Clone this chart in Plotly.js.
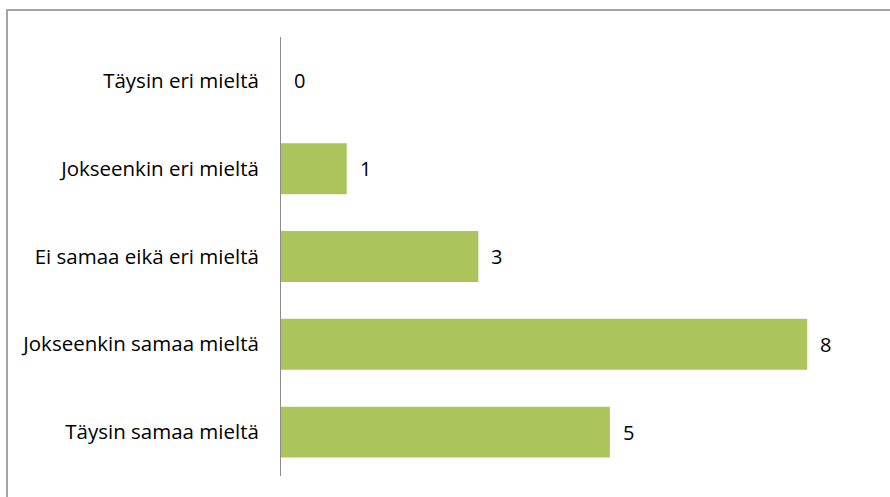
<!DOCTYPE html>
<html>
<head>
<meta charset="utf-8">
<script src="https://cdn.plot.ly/plotly-3.0.1.min.js"></script>
<style>
html,body{margin:0;padding:0;background:#fff;overflow:hidden;}
#chart{position:absolute;left:0;top:0;width:890px;height:497px;}
#frame{position:absolute;left:6px;top:9px;width:900px;height:500px;border:2px solid #a5a5a5;pointer-events:none;box-sizing:border-box;}
</style>
</head>
<body>
<div id="chart"></div>
<div id="frame"></div>
<script>
var categories = ["Täysin eri mieltä","Jokseenkin eri mieltä","Ei samaa eikä eri mieltä","Jokseenkin samaa mieltä","Täysin samaa mieltä"];
var values = [0,1,3,8,5];

var font = {family:"'Open Sans', 'Noto Sans', sans-serif", size:20.5, color:"#000"};
var labelFont = {family:"'Open Sans', 'Noto Sans', sans-serif", size:20, color:"#000"};

var annotations = categories.map(function(c,i){
  return {x:values[i], y:c, xref:"x", yref:"y", text:String(values[i]), showarrow:false,
          xanchor:"left", yanchor:"middle", xshift:11, font:labelFont};
});

Plotly.newPlot("chart",[{
  type:"bar", orientation:"h", x:values, y:categories,
  marker:{color:"#abc55c"}, hoverinfo:"none"
}],{
  width:890, height:497,
  margin:{l:281, r:17, t:37, b:21},
  paper_bgcolor:"#fff", plot_bgcolor:"#fff",
  bargap:0.42,
  showlegend:false,
  xaxis:{range:[0,9], visible:false, fixedrange:true},
  yaxis:{autorange:"reversed", showline:true, linecolor:"#8c8c8c", linewidth:1,
         showgrid:false, zeroline:false, ticks:"", ticklabelstandoff:17, tickfont:font, fixedrange:true},
  annotations:annotations
},{displayModeBar:false, staticPlot:true});
</script>
</body>
</html>
